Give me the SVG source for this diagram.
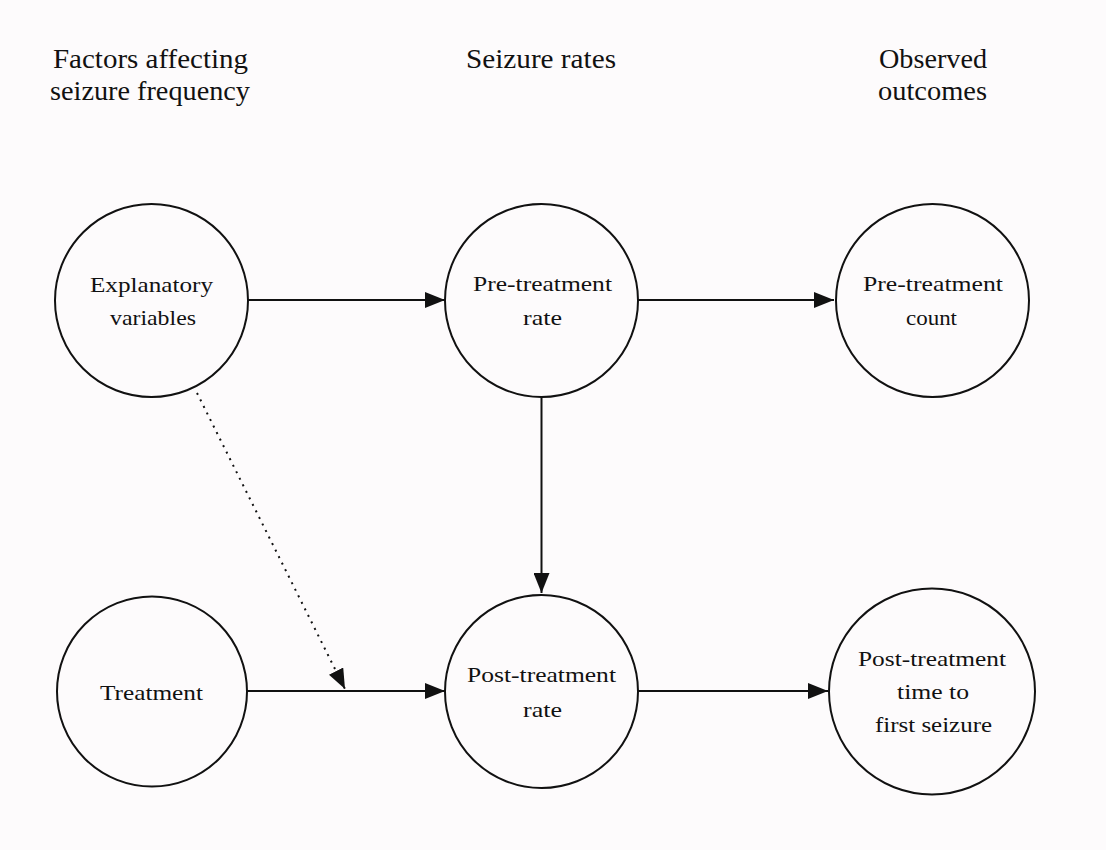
<svg xmlns="http://www.w3.org/2000/svg" width="1106" height="850" viewBox="0 0 1106 850">
<style>
  .bg { fill: #fdfbfc; }
  .node circle { fill: none; stroke: #111; stroke-width: 2; }
  text { font-family: "Liberation Serif", "DejaVu Serif", serif; fill: #111; text-anchor: middle; }
  .hdr { font-size: 27px; }
  .lbl { font-size: 22px; }
  .edge { stroke: #111; stroke-width: 2; fill: none; }
  .dotted { stroke-dasharray: 2 5.3; }
</style>
<defs>
  <marker id="arrow" markerUnits="userSpaceOnUse" markerWidth="20" markerHeight="16" refX="20" refY="8" orient="auto">
    <path d="M0,0 L20,8 L0,16 z" fill="#111"/>
  </marker>
</defs>
<rect class="bg" x="0" y="0" width="1106" height="850"/>

<g id="headers">
  <text class="hdr" x="150.5" y="68" textLength="195" lengthAdjust="spacingAndGlyphs">Factors affecting</text>
  <text class="hdr" x="150" y="100" textLength="200" lengthAdjust="spacingAndGlyphs">seizure frequency</text>
  <text class="hdr" x="541" y="68" textLength="150" lengthAdjust="spacingAndGlyphs">Seizure rates</text>
  <text class="hdr" x="933" y="68" textLength="108" lengthAdjust="spacingAndGlyphs">Observed</text>
  <text class="hdr" x="932.5" y="100" textLength="109" lengthAdjust="spacingAndGlyphs">outcomes</text>
</g>

<g id="connectors">
  <line class="edge" x1="248" y1="300" x2="445" y2="300" marker-end="url(#arrow)"/>
  <line class="edge" x1="638" y1="300" x2="834" y2="300" marker-end="url(#arrow)"/>
  <line class="edge" x1="541.5" y1="397" x2="541.5" y2="593" marker-end="url(#arrow)"/>
  <line class="edge" x1="247" y1="691" x2="445" y2="691" marker-end="url(#arrow)"/>
  <line class="edge" x1="638" y1="691" x2="828" y2="691" marker-end="url(#arrow)"/>
  <line class="edge dotted" x1="197" y1="393" x2="345" y2="689" marker-end="url(#arrow)"/>
</g>

<g id="explanatory" class="node">
  <circle cx="151.5" cy="300.5" r="96.5"/>
  <text class="lbl" x="151.5" y="292" textLength="123" lengthAdjust="spacingAndGlyphs">Explanatory</text>
  <text class="lbl" x="153" y="325" textLength="86" lengthAdjust="spacingAndGlyphs">variables</text>
</g>

<g id="pre-rate" class="node">
  <circle cx="541.5" cy="300.5" r="96.5"/>
  <text class="lbl" x="542.5" y="291" textLength="139" lengthAdjust="spacingAndGlyphs">Pre-treatment</text>
  <text class="lbl" x="542.5" y="325" textLength="39" lengthAdjust="spacingAndGlyphs">rate</text>
</g>

<g id="pre-count" class="node">
  <circle cx="932.5" cy="300.5" r="96.5"/>
  <text class="lbl" x="933" y="291" textLength="140" lengthAdjust="spacingAndGlyphs">Pre-treatment</text>
  <text class="lbl" x="931.5" y="325" textLength="51" lengthAdjust="spacingAndGlyphs">count</text>
</g>

<g id="treatment" class="node">
  <circle cx="152" cy="691.5" r="95"/>
  <text class="lbl" x="151.5" y="700" textLength="103" lengthAdjust="spacingAndGlyphs">Treatment</text>
</g>

<g id="post-rate" class="node">
  <circle cx="541.5" cy="691.5" r="96.5"/>
  <text class="lbl" x="541.5" y="682" textLength="149" lengthAdjust="spacingAndGlyphs">Post-treatment</text>
  <text class="lbl" x="542.5" y="717" textLength="39" lengthAdjust="spacingAndGlyphs">rate</text>
</g>

<g id="post-time" class="node">
  <circle cx="932" cy="691.5" r="103"/>
  <text class="lbl" x="932" y="666" textLength="148" lengthAdjust="spacingAndGlyphs">Post-treatment</text>
  <text class="lbl" x="933" y="699" textLength="72" lengthAdjust="spacingAndGlyphs">time to</text>
  <text class="lbl" x="933.5" y="732" textLength="117" lengthAdjust="spacingAndGlyphs">first seizure</text>
</g>
</svg>
